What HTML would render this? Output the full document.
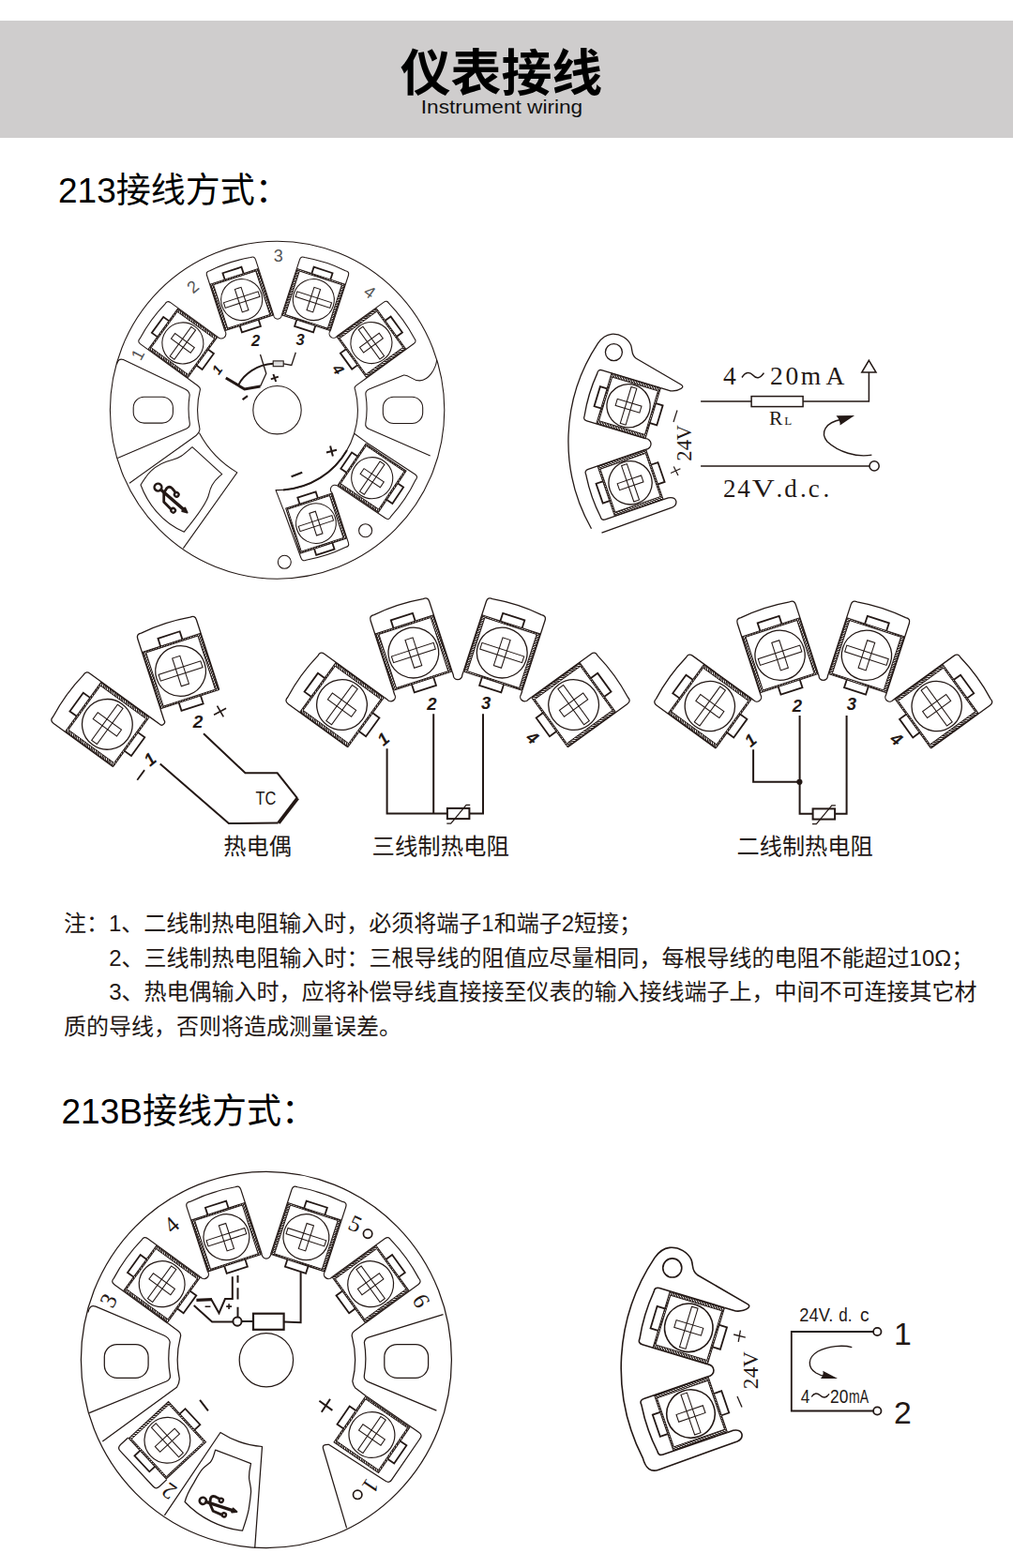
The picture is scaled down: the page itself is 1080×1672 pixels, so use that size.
<!DOCTYPE html><html><head><meta charset="utf-8"><title>Instrument wiring</title><style>html,body{margin:0;padding:0;background:#fff}body{position:relative;width:1080px;height:1672px;overflow:hidden;font-family:"Liberation Sans","Noto Sans CJK SC",sans-serif}svg{display:block;position:absolute;left:0;top:0}.cj{font-family:"Liberation Sans","Noto Sans CJK SC",sans-serif}</style></head><body><svg width="1080" height="1672" viewBox="0 0 1080 1672"><defs><pattern id="h0" width="2.1" height="2.1" patternUnits="userSpaceOnUse" patternTransform="rotate(45)"><rect width="2.1" height="2.1" fill="#fff"/><rect width="1.3" height="2.1" fill="#231815"/></pattern><pattern id="h1" width="2.15" height="2.15" patternUnits="userSpaceOnUse" patternTransform="rotate(45)"><rect width="2.15" height="2.15" fill="#fff"/><rect width="1.33" height="2.15" fill="#231815"/></pattern><pattern id="h2" width="2" height="2" patternUnits="userSpaceOnUse" patternTransform="rotate(45)"><rect width="2" height="2" fill="#fff"/><rect width="1.24" height="2" fill="#231815"/></pattern><pattern id="h3" width="1.72" height="1.72" patternUnits="userSpaceOnUse" patternTransform="rotate(45)"><rect width="1.72" height="1.72" fill="#fff"/><rect width="1.06" height="1.72" fill="#231815"/></pattern><pattern id="h4" width="1.72" height="1.72" patternUnits="userSpaceOnUse" patternTransform="rotate(45)"><rect width="1.72" height="1.72" fill="#fff"/><rect width="1.06" height="1.72" fill="#231815"/></pattern><pattern id="h5" width="1.74" height="1.74" patternUnits="userSpaceOnUse" patternTransform="rotate(45)"><rect width="1.74" height="1.74" fill="#fff"/><rect width="1.07" height="1.74" fill="#231815"/></pattern><pattern id="h6" width="1.89" height="1.89" patternUnits="userSpaceOnUse" patternTransform="rotate(45)"><rect width="1.89" height="1.89" fill="#fff"/><rect width="1.17" height="1.89" fill="#231815"/></pattern><pattern id="h7" width="1.79" height="1.79" patternUnits="userSpaceOnUse" patternTransform="rotate(45)"><rect width="1.79" height="1.79" fill="#fff"/><rect width="1.11" height="1.79" fill="#231815"/></pattern></defs><rect x="0" y="22" width="1080" height="125" fill="#cfcdcd"/><text class="cj" x="426.7" y="97.3" font-size="53.9" font-weight="bold" fill="#000">仪表接线</text><text class="cj" x="448.8" y="120.5" font-size="20.9" fill="#111" textLength="172.4" lengthAdjust="spacingAndGlyphs">Instrument wiring</text><text class="cj" x="62" y="216.3" font-size="37" fill="#000">213接线方式：</text><text class="cj" x="65.5" y="1197.5" font-size="37" fill="#000">213B接线方式：</text><text class="cj" x="68" y="993.2" font-size="24" fill="#231815">注：1、二线制热电阻输入时，必须将端子1和端子2短接；</text><text class="cj" x="116.2" y="1029.7" font-size="24" fill="#231815">2、三线制热电阻输入时：三根导线的阻值应尽量相同，每根导线的电阻不能超过10Ω；</text><text class="cj" x="116.2" y="1066.2" font-size="24" fill="#231815">3、热电偶输入时，应将补偿导线直接接至仪表的输入接线端子上，中间不可连接其它材</text><text class="cj" x="68" y="1102.7" font-size="24" fill="#231815">质的导线，否则将造成测量误差。</text><g fill="none" stroke="#231815" stroke-width="1.08" stroke-linejoin="round"><ellipse cx="295.6" cy="437.2" rx="178.2" ry="180.0"/><circle cx="295.5" cy="437.2" r="25.7"/><path d="M231.96,359.11 A5.03,5.03 0 0 0 239.75,352.73"/><path d="M291.68,335.86 A4.32,4.32 0 0 0 300.32,335.86"/><path d="M352.25,352.73 A4.48,4.48 0 0 0 358.84,358.81"/><path d="M359.73,518.03 A4.71,4.71 0 0 0 354.4,525.8"/><path d="M199.87,403.28 L210.79,411.22 Q213.7,413.33 213.41,415.46 A85.4,85.4 0 0 0 212.79,456.41 Q213.67,459.88 209.3,464.2 L138,515.2"/><path d="M212.4,461.6 A108,108 0 0 0 252.8,503.9 L195.4,584.6"/><path d="M390.93,402.98 L380.01,410.92 Q377.1,413.03 378.59,415.46 A85.4,85.4 0 0 1 294,522.58 L301.82,542.88"/><path d="M377.62,462.31 L390.82,471.93"/><path d="M301.96,522.39 A85.4,85.4 0 0 0 369.96,479.9" stroke-width="2"/><path d="M124.5,388.5 Q126,381.5 131.5,383.6 L196.5,414.6 Q201.6,416.8 202.2,421 A95,95 0 0 0 202.3,451.5 Q202.8,455.2 198.5,457.3 L125.3,488.6"/><rect x="142.2" y="423.3" width="42.2" height="27.8" rx="11.5" ry="11.5"/><path d="M465.7,384 C464.5,393 457.5,405.5 447.6,405.9 C439,406 437,399.5 430.5,400 L393.5,415 Q389.2,417 389.9,421 A94.5,94.5 0 0 1 389.8,451.5 Q389.2,455.5 393.5,457.6 L458.7,486.1"/><rect x="408.3" y="423.3" width="42.4" height="28.2" rx="11.5" ry="11.5"/><path d="M205,476.7 L236.7,505.6 C226,514 224,521 222.8,526.7 C221,536 208,553 196.3,567.2 C172,557 157,536 150,517 C155,509 158,505 161.1,502.2 C168,495.5 176,492 184,490.2 C192,488.5 196,484.5 205,476.7 Z"/><circle cx="303.3" cy="599.3" r="7"/><circle cx="389.6" cy="565.7" r="7"/></g><g transform="translate(168.5,519.6) rotate(41) scale(1)" fill="none" stroke="#231815" stroke-width="2.8" stroke-linecap="round" stroke-linejoin="round"><circle r="3.9" stroke-width="2.5"/><path d="M4.5,0 L37,0" stroke-width="3.4"/><path d="M36,-2.4 L41.3,0 L36,2.4 Z" fill="#231815" stroke-width="1.8"/><path d="M8.5,-0.5 L7.6,-5.5 Q8,-9.3 12.3,-9 L17,-8.2"/><circle cx="20" cy="-7.1" r="2.3" stroke-width="2.3"/><path d="M8.9,0.8 L14.9,7.7 L25.5,8.6"/><circle cx="28.4" cy="8" r="2.3" stroke-width="2.3"/></g><g fill="none" stroke="#231815" stroke-linejoin="miter"><path d="M240.8,403 L260.8,415 L277.5,412" stroke-width="3"/><path d="M277.5,412 L283.8,398.3 L277.5,378" stroke-width="1.3"/><path d="M254.2,410.5 C260,399 274,388.6 291.2,387.8" stroke-width="1.9"/><rect x="291.2" y="384.9" width="11" height="5.8" fill="#ddd" stroke-width="1.1"/><path d="M302.2,387.8 L310.8,389.5 L315.3,375.8" stroke-width="1.3"/><path d="M288.8,404.4 L296.8,401.6 M291.4,399 L294.2,407" stroke-width="2"/><path d="M258.6,426.2 L264,422.2" stroke-width="2.2"/><path d="M348,482.5 L359,479.7 M352.1,475.6 L354.9,486.6" stroke-width="2"/><path d="M310.6,508.3 L322.2,503.7" stroke-width="2.2"/></g><text font-family="Liberation Sans, sans-serif" font-weight="bold" font-style="italic" text-anchor="middle" fill="#231815" font-size="14.5" transform="translate(231.3,394.2) rotate(-54)" y="5.22">1</text><text font-family="Liberation Sans, sans-serif" font-weight="bold" font-style="italic" text-anchor="middle" fill="#231815" font-size="16.5" transform="translate(272.5,363.3) rotate(0)" y="5.94">2</text><text font-family="Liberation Sans, sans-serif" font-weight="bold" font-style="italic" text-anchor="middle" fill="#231815" font-size="16.5" transform="translate(320,362.5) rotate(0)" y="5.94">3</text><text font-family="Liberation Sans, sans-serif" font-weight="bold" font-style="italic" text-anchor="middle" fill="#231815" font-size="16" transform="translate(360.8,393.7) rotate(54)" y="5.76">4</text><text font-family="Liberation Sans, sans-serif" text-anchor="middle" fill="#555" font-size="18" transform="translate(146.5,378) rotate(-62)" y="6.5">1</text><text font-family="Liberation Sans, sans-serif" text-anchor="middle" fill="#555" font-size="18" transform="translate(205.5,305.5) rotate(-40)" y="6.5">2</text><text font-family="Liberation Sans, sans-serif" text-anchor="middle" fill="#555" font-size="18" transform="translate(296.7,272)" y="6.5">3</text><text font-family="Liberation Sans, sans-serif" text-anchor="middle" fill="#555" font-size="18" transform="translate(394.3,311.2) rotate(36)" y="6.5">4</text><g transform="translate(194.88,365.91) rotate(-54) scale(1)" fill="none" stroke="#231815" stroke-width="1.08"><path d="M-27.3,26 L-27.3,-36 Q-27.3,-40.5 -22.8,-39.9 A164.5,164.5 0 0 1 22.8,-39.9 Q27.3,-40.5 27.3,-36 L27.3,26"/><path fill="url(#h0)" stroke="none" fill-rule="evenodd" d="M-26.5,-26.0H26.5V26.0H-26.5Z M-23.7,-24.4H23.7V24.4H-23.7Z"/><rect x="-26.5" y="-26.0" width="53.0" height="52.0" stroke-width="1"/><rect x="-23.7" y="-24.4" width="47.4" height="48.8" stroke-width="0.9"/><path stroke-width="1.8" d="M-10.5,-26V-33.2H10.5V-26"/><path stroke-width="1.8" d="M-10.5,26V33.2H10.5V26"/><circle r="22"/><g transform="rotate(0)" stroke-width="1.05"><rect x="-19.3" y="-2.9" width="38.6" height="5.8"/><rect x="-3.5" y="-12.8" width="7" height="25.6"/></g></g><g transform="translate(257.68,319.57) rotate(-18) scale(1)" fill="none" stroke="#231815" stroke-width="1.08"><path d="M-27.3,26 L-27.3,-36 Q-27.3,-40.5 -22.8,-39.9 A164.5,164.5 0 0 1 22.8,-39.9 Q27.3,-40.5 27.3,-36 L27.3,26"/><path fill="url(#h0)" stroke="none" fill-rule="evenodd" d="M-26.5,-26.0H26.5V26.0H-26.5Z M-23.7,-24.4H23.7V24.4H-23.7Z"/><rect x="-26.5" y="-26.0" width="53.0" height="52.0" stroke-width="1"/><rect x="-23.7" y="-24.4" width="47.4" height="48.8" stroke-width="0.9"/><path stroke-width="1.8" d="M-10.5,-26V-33.2H10.5V-26"/><path stroke-width="1.8" d="M-10.5,26V33.2H10.5V26"/><circle r="22"/><g transform="rotate(0)" stroke-width="1.05"><rect x="-19.3" y="-2.9" width="38.6" height="5.8"/><rect x="-3.5" y="-12.8" width="7" height="25.6"/></g></g><g transform="translate(334.32,319.57) rotate(18) scale(1)" fill="none" stroke="#231815" stroke-width="1.08"><path d="M-27.3,26 L-27.3,-36 Q-27.3,-40.5 -22.8,-39.9 A164.5,164.5 0 0 1 22.8,-39.9 Q27.3,-40.5 27.3,-36 L27.3,26"/><path fill="url(#h0)" stroke="none" fill-rule="evenodd" d="M-26.5,-26.0H26.5V26.0H-26.5Z M-23.7,-24.4H23.7V24.4H-23.7Z"/><rect x="-26.5" y="-26.0" width="53.0" height="52.0" stroke-width="1"/><rect x="-23.7" y="-24.4" width="47.4" height="48.8" stroke-width="0.9"/><path stroke-width="1.8" d="M-10.5,-26V-33.2H10.5V-26"/><path stroke-width="1.8" d="M-10.5,26V33.2H10.5V26"/><circle r="22"/><g transform="rotate(0)" stroke-width="1.05"><rect x="-19.3" y="-2.9" width="38.6" height="5.8"/><rect x="-3.5" y="-12.8" width="7" height="25.6"/></g></g><g transform="translate(395.92,365.61) rotate(54) scale(1)" fill="none" stroke="#231815" stroke-width="1.08"><path d="M-27.3,26 L-27.3,-36 Q-27.3,-40.5 -22.8,-39.9 A164.5,164.5 0 0 1 22.8,-39.9 Q27.3,-40.5 27.3,-36 L27.3,26"/><path fill="url(#h0)" stroke="none" fill-rule="evenodd" d="M-26.5,-26.0H26.5V26.0H-26.5Z M-23.7,-24.4H23.7V24.4H-23.7Z"/><rect x="-26.5" y="-26.0" width="53.0" height="52.0" stroke-width="1"/><rect x="-23.7" y="-24.4" width="47.4" height="48.8" stroke-width="0.9"/><path stroke-width="1.8" d="M-10.5,-26V-33.2H10.5V-26"/><path stroke-width="1.8" d="M-10.5,26V33.2H10.5V26"/><circle r="22"/><g transform="rotate(0)" stroke-width="1.05"><rect x="-19.3" y="-2.9" width="38.6" height="5.8"/><rect x="-3.5" y="-12.8" width="7" height="25.6"/></g></g><g transform="translate(396.72,509.69) rotate(124) scale(1)" fill="none" stroke="#231815" stroke-width="1.08"><path d="M-28,26 L-28.9,-35.7 Q-28.9,-40.2 -24.4,-39.6 A164.5,164.5 0 0 1 23.1,-39.6 Q27.6,-40.2 27.6,-35.7 L27.6,26"/><path fill="url(#h0)" stroke="none" fill-rule="evenodd" d="M-26.5,-26.0H26.5V26.0H-26.5Z M-24.9,-24.4H23.7V24.4H-24.9Z"/><rect x="-26.5" y="-26.0" width="53.0" height="52.0" stroke-width="1"/><rect x="-24.9" y="-24.4" width="48.6" height="48.8" stroke-width="0.9"/><path stroke-width="1.8" d="M-10.5,-26V-33.2H10.5V-26"/><path stroke-width="1.8" d="M-10.5,26V33.2H10.5V26"/><circle r="22"/><g transform="rotate(0)" stroke-width="1.05"><rect x="-19.3" y="-2.9" width="38.6" height="5.8"/><rect x="-3.5" y="-12.8" width="7" height="25.6"/></g></g><g transform="translate(336.92,558.13) rotate(162) scale(0.97)" fill="none" stroke="#231815" stroke-width="1.11"><path d="M-27.3,26 L-27.3,-31 Q-27.3,-35.5 -22.8,-34.9 A164.5,164.5 0 0 1 22.9,-34.9 Q27.4,-35.5 27.4,-31 L29.4,26"/><path fill="url(#h1)" stroke="none" fill-rule="evenodd" d="M-26.5,-26.0H26.5V26.0H-26.5Z M-23.63,-24.36H24.86V24.36H-23.63Z"/><rect x="-26.5" y="-26.0" width="53.0" height="52.0" stroke-width="1.03"/><rect x="-23.63" y="-24.36" width="48.49" height="48.72" stroke-width="0.92"/><path stroke-width="1.85" d="M-10.5,-26V-33.2H10.5V-26"/><path stroke-width="1.85" d="M-10.5,26V33.2H10.5V26"/><circle r="22"/><g transform="rotate(0)" stroke-width="1.08"><rect x="-19.3" y="-2.9" width="38.6" height="5.8"/><rect x="-3.5" y="-12.8" width="7" height="25.6"/></g></g><g fill="none" stroke="#231815" stroke-width="1.3" stroke-linejoin="round"><path d="M707.08,532.65 L712.54,530.77 Q719.5,529.6 720.8,534.3 Q721.6,539 716.5,541.2 L641.5,568.2 M630.5,563.7 A188.8,188.8 0 0 1 637.6,365.9 C641,361 646,357 651.9,356.3 C661,355.5 669.5,361 672.6,367.9 C674,372 673.5,376 675.2,378.6 Q676.3,380.8 678.3,382.3 L726.3,410.2 Q729.3,412 726.3,414.3 Q722,417.4 714.93,416.8 L704.37,413.62"/><path d="M688.69,479.24 A5.78,5.78 0 0 0 688.04,467.7"/><circle cx="654.4" cy="375.6" r="9"/></g><g transform="translate(670.07,432.77) rotate(-73.2) scale(1.05)" fill="none" stroke="#231815" stroke-width="1.24"><path d="M-26.9,26 L-26.9,-36 Q-26.9,-40.5 -22.4,-39.9 A164.5,164.5 0 0 1 22.4,-39.9 Q26.9,-40.5 26.9,-36 L26.9,26"/><path fill="url(#h2)" stroke="none" fill-rule="evenodd" d="M-26.5,-26.0H26.5V26.0H-26.5Z M-23.17,-24.29H23.17V24.29H-23.17Z"/><rect x="-26.5" y="-26.0" width="53.0" height="52.0" stroke-width="0.95"/><rect x="-23.17" y="-24.29" width="46.33" height="48.57" stroke-width="0.86"/><path stroke-width="1.71" d="M-10.5,-26V-33.2H10.5V-26"/><path stroke-width="1.71" d="M-10.5,26V33.2H10.5V26"/><circle r="22"/><g transform="rotate(0)" stroke-width="1"><rect x="-19.3" y="-2.9" width="38.6" height="5.8"/><rect x="-3.5" y="-12.8" width="7" height="25.6"/></g></g><g transform="translate(672.07,514.83) rotate(-109) scale(1.05)" fill="none" stroke="#231815" stroke-width="1.24"><path d="M-26.9,26 L-26.9,-36 Q-26.9,-40.5 -22.4,-39.9 A164.5,164.5 0 0 1 22.4,-39.9 Q26.9,-40.5 26.9,-36 L26.9,26"/><path fill="url(#h2)" stroke="none" fill-rule="evenodd" d="M-26.5,-26.0H26.5V26.0H-26.5Z M-23.17,-24.29H23.17V24.29H-23.17Z"/><rect x="-26.5" y="-26.0" width="53.0" height="52.0" stroke-width="0.95"/><rect x="-23.17" y="-24.29" width="46.33" height="48.57" stroke-width="0.86"/><path stroke-width="1.71" d="M-10.5,-26V-33.2H10.5V-26"/><path stroke-width="1.71" d="M-10.5,26V33.2H10.5V26"/><circle r="22"/><g transform="rotate(0)" stroke-width="1"><rect x="-19.3" y="-2.9" width="38.6" height="5.8"/><rect x="-3.5" y="-12.8" width="7" height="25.6"/></g></g><g fill="none" stroke="#231815" stroke-width="1.5"><path d="M747.1,428.1 H801.1 M856.1,428.1 H926.4 V397.1"/><rect x="801.1" y="422.6" width="55" height="11"/><path d="M926.4,384.3 L934,397.1 H918.8 Z"/><path d="M747.1,496.9 H927"/><circle cx="932.1" cy="496.9" r="5.1"/><path d="M929.4,485.1 C913,488 894,482 882,471 C874,461 880,450.5 897,447.3" stroke-width="1.4"/></g><path d="M911.1,442.9 L891.5,443.2 Q896,448 895.6,453.6 Z" fill="#231815"/><text font-family="Liberation Serif, serif" fill="#231815" font-size="27.5" y="409.7" x="771">4</text><text font-family="Liberation Serif, serif" fill="#231815" font-size="27.5" y="409.7" x="821 837.4 853.8 880.6">20mA</text><path d="M791,402.5 C795,396 799.5,396.5 802.7,400 C806,403.8 810.5,404 814.4,397.7" fill="none" stroke="#231815" stroke-width="1.5"/><text font-family="Liberation Serif, serif" fill="#231815" font-size="21.5" y="452.5" x="820">R</text><text font-family="Liberation Serif, serif" fill="#231815" font-size="13" y="452.5" x="836.3">L</text><text font-family="Liberation Serif, serif" fill="#231815" font-size="27" y="529.9" x="771 786.3">24</text><text font-family="Liberation Serif, serif" fill="#231815" font-size="27" y="529.9" x="801.8" textLength="24" lengthAdjust="spacingAndGlyphs">V</text><text font-family="Liberation Serif, serif" fill="#231815" font-size="27" y="529.9" x="827.5 836.3 853 861.7 877.5">.d.c.</text><text font-family="Liberation Serif, serif" fill="#231815" font-size="22.5" transform="translate(737,491.8) rotate(-90)" x="0 11.5 22.2">24V</text><g fill="none" stroke="#231815" stroke-width="1.2"><path d="M715.1,504.5 L725.4,499.8 M718.3,497.4 L723,506.9"/><path d="M722,437.5 L718,450"/></g><g fill="none" stroke="#231815" stroke-width="1.3"><path d="M159.47,764.35 L169.6,771.72 A3.26,3.26 0 0 0 174.88,767.88 L171.01,755.97"/></g><g transform="translate(114.37,772.37) rotate(-54) scale(1.22)" fill="none" stroke="#231815" stroke-width="1.06"><path d="M-27,26 L-27,-38.3 Q-27,-42.8 -22.5,-42.2 A164.5,164.5 0 0 1 22.5,-42.2 Q27,-42.8 27,-38.3 L27,26"/><path fill="url(#h3)" stroke="none" fill-rule="evenodd" d="M-26.5,-26.0H26.5V26.0H-26.5Z M-23.8,-24.61H23.8V24.61H-23.8Z"/><rect x="-26.5" y="-26.0" width="53.0" height="52.0" stroke-width="0.82"/><rect x="-23.8" y="-24.61" width="47.6" height="49.22" stroke-width="0.74"/><path stroke-width="1.47" d="M-10,-26V-33.2H10V-26"/><path stroke-width="1.47" d="M-10,26V33.2H10V26"/><circle r="22"/><g transform="rotate(0)" stroke-width="0.86"><rect x="-19.3" y="-2.9" width="38.6" height="5.8"/><rect x="-3.5" y="-12.8" width="7" height="25.6"/></g></g><g transform="translate(192.57,715.55) rotate(-18) scale(1.22)" fill="none" stroke="#231815" stroke-width="1.06"><path d="M-27,26 L-27,-38.3 Q-27,-42.8 -22.5,-42.2 A164.5,164.5 0 0 1 22.5,-42.2 Q27,-42.8 27,-38.3 L27,26"/><path fill="url(#h3)" stroke="none" fill-rule="evenodd" d="M-26.5,-26.0H26.5V26.0H-26.5Z M-23.8,-24.61H23.8V24.61H-23.8Z"/><rect x="-26.5" y="-26.0" width="53.0" height="52.0" stroke-width="0.82"/><rect x="-23.8" y="-24.61" width="47.6" height="49.22" stroke-width="0.74"/><path stroke-width="1.47" d="M-10,-26V-33.2H10V-26"/><path stroke-width="1.47" d="M-10,26V33.2H10V26"/><circle r="22"/><g transform="rotate(0)" stroke-width="0.86"><rect x="-19.3" y="-2.9" width="38.6" height="5.8"/><rect x="-3.5" y="-12.8" width="7" height="25.6"/></g></g><g fill="none" stroke="#231815" stroke-width="2" stroke-linejoin="miter"><path d="M217,782.2 L261.5,824.3 H295.7 L317,851.1 M296.7,877.6 L243.9,878 L170.7,814.4"/><path d="M317.4,851 L297,877.7" stroke-width="3.8"/><path d="M228.1,762.2 L241.1,755.2 M231.5,752.6 L238.3,764.4" stroke-width="1.6"/><path d="M146.3,831.7 L154.1,821.1" stroke-width="1.8"/></g><text font-family="Liberation Sans, sans-serif" font-weight="bold" font-style="italic" text-anchor="middle" fill="#231815" font-size="19" transform="translate(211.1,769.6) rotate(0)" y="6.84">2</text><text font-family="Liberation Sans, sans-serif" font-weight="bold" font-style="italic" text-anchor="middle" fill="#231815" font-size="19" transform="translate(159.6,809.4) rotate(-40)" y="6.84">1</text><text font-family="Liberation Sans, sans-serif" font-size="20.5" fill="#231815" transform="translate(272.4,858.4) scale(0.8,1)">TC</text><text class="cj" x="238.3" y="911.3" font-size="24.2" fill="#231815">热电偶</text><g fill="none" stroke="#231815" stroke-width="1.3"><path d="M409.63,743.52 L412.85,745.86 A4.74,4.74 0 0 0 420.52,740.29 L419.29,736.51"/><path d="M482.08,716.1 L483.31,719.88 A4.74,4.74 0 0 0 492.79,719.88 L494.02,716.1"/><path d="M556.81,736.51 L555.58,740.29 A4.74,4.74 0 0 0 563.25,745.86 L566.47,743.52"/></g><g transform="translate(364.51,751.55) rotate(-54) scale(1.22)" fill="none" stroke="#231815" stroke-width="1.06"><path d="M-27,26 L-27,-38.3 Q-27,-42.8 -22.5,-42.2 A164.5,164.5 0 0 1 22.5,-42.2 Q27,-42.8 27,-38.3 L27,26"/><path fill="url(#h4)" stroke="none" fill-rule="evenodd" d="M-26.5,-26.0H26.5V26.0H-26.5Z M-23.8,-24.61H23.8V24.61H-23.8Z"/><rect x="-26.5" y="-26.0" width="53.0" height="52.0" stroke-width="0.82"/><rect x="-23.8" y="-24.61" width="47.6" height="49.22" stroke-width="0.74"/><path stroke-width="1.47" d="M-10,-26V-33.2H10V-26"/><path stroke-width="1.47" d="M-10,26V33.2H10V26"/><circle r="22"/><g transform="rotate(0)" stroke-width="0.86"><rect x="-19.3" y="-2.9" width="38.6" height="5.8"/><rect x="-3.5" y="-12.8" width="7" height="25.6"/></g></g><g transform="translate(440.86,696.07) rotate(-18) scale(1.22)" fill="none" stroke="#231815" stroke-width="1.06"><path d="M-27,26 L-27,-38.3 Q-27,-42.8 -22.5,-42.2 A164.5,164.5 0 0 1 22.5,-42.2 Q27,-42.8 27,-38.3 L27,26"/><path fill="url(#h4)" stroke="none" fill-rule="evenodd" d="M-26.5,-26.0H26.5V26.0H-26.5Z M-23.8,-24.61H23.8V24.61H-23.8Z"/><rect x="-26.5" y="-26.0" width="53.0" height="52.0" stroke-width="0.82"/><rect x="-23.8" y="-24.61" width="47.6" height="49.22" stroke-width="0.74"/><path stroke-width="1.47" d="M-10,-26V-33.2H10V-26"/><path stroke-width="1.47" d="M-10,26V33.2H10V26"/><circle r="22"/><g transform="rotate(0)" stroke-width="0.86"><rect x="-19.3" y="-2.9" width="38.6" height="5.8"/><rect x="-3.5" y="-12.8" width="7" height="25.6"/></g></g><g transform="translate(535.24,696.07) rotate(18) scale(1.22)" fill="none" stroke="#231815" stroke-width="1.06"><path d="M-27,26 L-27,-38.3 Q-27,-42.8 -22.5,-42.2 A164.5,164.5 0 0 1 22.5,-42.2 Q27,-42.8 27,-38.3 L27,26"/><path fill="url(#h4)" stroke="none" fill-rule="evenodd" d="M-26.5,-26.0H26.5V26.0H-26.5Z M-23.8,-24.61H23.8V24.61H-23.8Z"/><rect x="-26.5" y="-26.0" width="53.0" height="52.0" stroke-width="0.82"/><rect x="-23.8" y="-24.61" width="47.6" height="49.22" stroke-width="0.74"/><path stroke-width="1.47" d="M-10,-26V-33.2H10V-26"/><path stroke-width="1.47" d="M-10,26V33.2H10V26"/><circle r="22"/><g transform="rotate(0)" stroke-width="0.86"><rect x="-19.3" y="-2.9" width="38.6" height="5.8"/><rect x="-3.5" y="-12.8" width="7" height="25.6"/></g></g><g transform="translate(611.59,751.55) rotate(54) scale(1.22)" fill="none" stroke="#231815" stroke-width="1.06"><path d="M-27,26 L-27,-38.3 Q-27,-42.8 -22.5,-42.2 A164.5,164.5 0 0 1 22.5,-42.2 Q27,-42.8 27,-38.3 L27,26"/><path fill="url(#h4)" stroke="none" fill-rule="evenodd" d="M-26.5,-26.0H26.5V26.0H-26.5Z M-23.8,-24.61H23.8V24.61H-23.8Z"/><rect x="-26.5" y="-26.0" width="53.0" height="52.0" stroke-width="0.82"/><rect x="-23.8" y="-24.61" width="47.6" height="49.22" stroke-width="0.74"/><path stroke-width="1.47" d="M-10,-26V-33.2H10V-26"/><path stroke-width="1.47" d="M-10,26V33.2H10V26"/><circle r="22"/><g transform="rotate(0)" stroke-width="0.86"><rect x="-19.3" y="-2.9" width="38.6" height="5.8"/><rect x="-3.5" y="-12.8" width="7" height="25.6"/></g></g><g fill="none" stroke="#231815" stroke-width="2" stroke-linejoin="miter"><path d="M412.6,798.3 V867.4 H476.7 M500.6,867.4 H515 V761.3 M462.2,761.3 V867.4"/><rect x="476.9" y="861.9" width="23.5" height="11.2" fill="#fff"/><path d="M476.3,878.1 H480.7 L497.1,858.3 H501.2" stroke-width="1.2"/></g><text font-family="Liberation Sans, sans-serif" font-weight="bold" font-style="italic" text-anchor="middle" fill="#231815" font-size="18.5" transform="translate(460.4,750.2) rotate(0)" y="6.66">2</text><text font-family="Liberation Sans, sans-serif" font-weight="bold" font-style="italic" text-anchor="middle" fill="#231815" font-size="18.5" transform="translate(518.1,749.3) rotate(0)" y="6.66">3</text><text font-family="Liberation Sans, sans-serif" font-weight="bold" font-style="italic" text-anchor="middle" fill="#231815" font-size="18.5" transform="translate(408.5,787.8) rotate(-40)" y="6.66">1</text><text font-family="Liberation Sans, sans-serif" font-weight="bold" font-style="italic" text-anchor="middle" fill="#231815" font-size="18.5" transform="translate(567.8,786.3) rotate(38)" y="6.66">4</text><text class="cj" x="396.5" y="910.5" font-size="24.4" fill="#231815">三线制热电阻</text><g fill="none" stroke="#231815" stroke-width="1.3"><path d="M801.5,745.12 L803.21,746.36 A4.74,4.74 0 0 0 810.87,740.79 L810.22,738.78"/><path d="M872.36,718.59 L873.01,720.6 A4.74,4.74 0 0 0 882.49,720.6 L883.14,718.59"/><path d="M945.28,738.78 L944.63,740.79 A4.74,4.74 0 0 0 952.29,746.36 L954,745.12"/></g><g transform="translate(756.84,753.06) rotate(-54) scale(1.21)" fill="none" stroke="#231815" stroke-width="1.07"><path d="M-27,26 L-27,-38.3 Q-27,-42.8 -22.5,-42.2 A164.5,164.5 0 0 1 22.5,-42.2 Q27,-42.8 27,-38.3 L27,26"/><path fill="url(#h5)" stroke="none" fill-rule="evenodd" d="M-26.5,-26.0H26.5V26.0H-26.5Z M-23.77,-24.6H23.77V24.6H-23.77Z"/><rect x="-26.5" y="-26.0" width="53.0" height="52.0" stroke-width="0.83"/><rect x="-23.77" y="-24.6" width="47.55" height="49.19" stroke-width="0.74"/><path stroke-width="1.49" d="M-10,-26V-33.2H10V-26"/><path stroke-width="1.49" d="M-10,26V33.2H10V26"/><circle r="22"/><g transform="rotate(0)" stroke-width="0.87"><rect x="-19.3" y="-2.9" width="38.6" height="5.8"/><rect x="-3.5" y="-12.8" width="7" height="25.6"/></g></g><g transform="translate(831.57,698.76) rotate(-18) scale(1.21)" fill="none" stroke="#231815" stroke-width="1.07"><path d="M-27,26 L-27,-38.3 Q-27,-42.8 -22.5,-42.2 A164.5,164.5 0 0 1 22.5,-42.2 Q27,-42.8 27,-38.3 L27,26"/><path fill="url(#h5)" stroke="none" fill-rule="evenodd" d="M-26.5,-26.0H26.5V26.0H-26.5Z M-23.77,-24.6H23.77V24.6H-23.77Z"/><rect x="-26.5" y="-26.0" width="53.0" height="52.0" stroke-width="0.83"/><rect x="-23.77" y="-24.6" width="47.55" height="49.19" stroke-width="0.74"/><path stroke-width="1.49" d="M-10,-26V-33.2H10V-26"/><path stroke-width="1.49" d="M-10,26V33.2H10V26"/><circle r="22"/><g transform="rotate(0)" stroke-width="0.87"><rect x="-19.3" y="-2.9" width="38.6" height="5.8"/><rect x="-3.5" y="-12.8" width="7" height="25.6"/></g></g><g transform="translate(923.93,698.76) rotate(18) scale(1.21)" fill="none" stroke="#231815" stroke-width="1.07"><path d="M-27,26 L-27,-38.3 Q-27,-42.8 -22.5,-42.2 A164.5,164.5 0 0 1 22.5,-42.2 Q27,-42.8 27,-38.3 L27,26"/><path fill="url(#h5)" stroke="none" fill-rule="evenodd" d="M-26.5,-26.0H26.5V26.0H-26.5Z M-23.77,-24.6H23.77V24.6H-23.77Z"/><rect x="-26.5" y="-26.0" width="53.0" height="52.0" stroke-width="0.83"/><rect x="-23.77" y="-24.6" width="47.55" height="49.19" stroke-width="0.74"/><path stroke-width="1.49" d="M-10,-26V-33.2H10V-26"/><path stroke-width="1.49" d="M-10,26V33.2H10V26"/><circle r="22"/><g transform="rotate(0)" stroke-width="0.87"><rect x="-19.3" y="-2.9" width="38.6" height="5.8"/><rect x="-3.5" y="-12.8" width="7" height="25.6"/></g></g><g transform="translate(998.66,753.06) rotate(54) scale(1.21)" fill="none" stroke="#231815" stroke-width="1.07"><path d="M-27,26 L-27,-38.3 Q-27,-42.8 -22.5,-42.2 A164.5,164.5 0 0 1 22.5,-42.2 Q27,-42.8 27,-38.3 L27,26"/><path fill="url(#h5)" stroke="none" fill-rule="evenodd" d="M-26.5,-26.0H26.5V26.0H-26.5Z M-23.77,-24.6H23.77V24.6H-23.77Z"/><rect x="-26.5" y="-26.0" width="53.0" height="52.0" stroke-width="0.83"/><rect x="-23.77" y="-24.6" width="47.55" height="49.19" stroke-width="0.74"/><path stroke-width="1.49" d="M-10,-26V-33.2H10V-26"/><path stroke-width="1.49" d="M-10,26V33.2H10V26"/><circle r="22"/><g transform="rotate(0)" stroke-width="0.87"><rect x="-19.3" y="-2.9" width="38.6" height="5.8"/><rect x="-3.5" y="-12.8" width="7" height="25.6"/></g></g><g fill="none" stroke="#231815" stroke-width="2" stroke-linejoin="miter"><path d="M803.1,799.3 V833.7 H852.6 M852.6,763.1 V867.8 H866.7 M889.6,867.8 H902.6 V763.1"/><rect x="866.6" y="862.4" width="23.5" height="11.2" fill="#fff"/><path d="M866,878.6 H870.4 L886.8,858.8 H890.9" stroke-width="1.2"/><circle cx="852.4" cy="833.8" r="3.1" fill="#231815" stroke="none"/></g><text font-family="Liberation Sans, sans-serif" font-weight="bold" font-style="italic" text-anchor="middle" fill="#231815" font-size="18.5" transform="translate(850,752) rotate(0)" y="6.66">2</text><text font-family="Liberation Sans, sans-serif" font-weight="bold" font-style="italic" text-anchor="middle" fill="#231815" font-size="18.5" transform="translate(907.8,750.2) rotate(0)" y="6.66">3</text><text font-family="Liberation Sans, sans-serif" font-weight="bold" font-style="italic" text-anchor="middle" fill="#231815" font-size="18.5" transform="translate(800,789) rotate(-40)" y="6.66">1</text><text font-family="Liberation Sans, sans-serif" font-weight="bold" font-style="italic" text-anchor="middle" fill="#231815" font-size="18.5" transform="translate(955.9,787.8) rotate(38)" y="6.66">4</text><text class="cj" x="785.5" y="910.5" font-size="24.2" fill="#231815">二线制热电阻</text><g fill="none" stroke="#231815" stroke-width="1.25" stroke-linejoin="round"><ellipse cx="283.9" cy="1449.95" rx="197.5" ry="200.65"/><circle cx="283.9" cy="1450.2" r="28.7"/><path d="M213.77,1361.62 A4.79,4.79 0 0 0 221.52,1355.99"/><path d="M279.11,1337.28 A4.79,4.79 0 0 0 288.69,1337.28"/><path d="M346.28,1355.99 A4.79,4.79 0 0 0 354.03,1361.62"/><path d="M178.18,1410.61 L190.29,1419.41 Q193.52,1421.76 192.31,1425.89 A94.71,94.71 0 0 0 191.09,1468.88 Q192,1472.91 188.5,1479.2 L109.3,1537"/><path d="M389.62,1410.61 L377.51,1419.41 Q374.28,1421.76 375.49,1425.89 A94.71,94.71 0 0 1 375.8,1472.91 Q376.6,1477.7 378.8,1480 L390.02,1488.44 L446.69,1527.39 Q450.8,1530.21 447.64,1534.23 L417.8,1577.64 Q415.25,1581.94 411.07,1579.21 L350.35,1540.3 Q343,1540 344.6,1545 L369.6,1629.4"/><path d="M136.6,1533.05 L128.46,1540.58 Q124.8,1543.97 128.36,1547.33 L163.02,1584.76 Q166.09,1588.56 169.75,1585.17 L177.89,1577.64"/><path d="M175.4,1615.9 L235,1527.5 A94.71,94.71 0 0 0 279.5,1542.5 L271.7,1650.8"/><path d="M229.6,1546.1 L267.5,1560.6 C266.3,1566 265,1571 265.7,1577.4 C266.5,1583 268,1586.5 267.5,1591.8 C266.8,1600 266,1604 265.1,1609.9 C263.5,1618 261,1625 258.5,1632.2 C236,1630 213,1618.5 197.1,1601.5 C199,1594 202.5,1588 206.1,1582.2 C209,1577 212,1571 215.7,1566.6 C219,1562.8 222,1561.5 224.2,1559.3 C227.3,1556 228,1551 229.6,1546.1 Z"/><path d="M93.8,1399.5 Q95.5,1390.5 102,1393.2 L174.8,1424 Q180.3,1426.5 181.2,1431 A105.3,105.3 0 0 0 181.4,1466.6 Q182,1470.8 177.3,1473 L95.2,1506.7"/><rect x="111.3" y="1433.5" width="46.8" height="35.8" rx="13.5" ry="13.5"/><path d="M472.5,1401.7 L393.5,1425.8 Q388.8,1427.3 388.4,1431.5 A105.3,105.3 0 0 1 388.3,1467.2 Q387.8,1471.2 392.3,1473.4 L465.4,1504.2"/><rect x="409.8" y="1433.5" width="46.8" height="35.8" rx="13.5" ry="13.5"/><circle cx="392.1" cy="1315.6" r="4.7" stroke-width="1.7"/><circle cx="381.2" cy="1593.8" r="4.7" stroke-width="1.7"/></g><g transform="translate(216.3,1600.3) rotate(18) scale(0.92)" fill="none" stroke="#231815" stroke-width="3.08" stroke-linecap="round" stroke-linejoin="round"><circle r="3.9" stroke-width="2.75"/><path d="M4.5,0 L37,0" stroke-width="3.74"/><path d="M36,-2.4 L41.3,0 L36,2.4 Z" fill="#231815" stroke-width="1.98"/><path d="M8.5,-0.5 L7.6,-5.5 Q8,-9.3 12.3,-9 L17,-8.2"/><circle cx="20" cy="-7.1" r="2.3" stroke-width="2.53"/><path d="M8.9,0.8 L14.9,7.7 L25.5,8.6"/><circle cx="28.4" cy="8" r="2.3" stroke-width="2.53"/></g><g fill="none" stroke="#231815" stroke-width="2" stroke-linejoin="miter"><path d="M247.8,1361.3 V1385 H240 L233.5,1400.2 L225.2,1385.4"/><path d="M226,1385.7 L209.4,1386.3" stroke-width="3.2"/><path d="M253.5,1360 V1367.8 M253.5,1373.3 V1385.4 M253.5,1393.7 V1404.2"/><circle cx="253" cy="1409.1" r="4.6"/><path d="M206.7,1391.9 L226.1,1409.4 H248.4 M257.6,1409.1 H270"/><rect x="270" y="1400.7" width="32.6" height="17.1" stroke-width="2.2"/><path d="M302.6,1409.6 L320.6,1410.2 V1356.7"/><path d="M218.6,1393.3 H224.4 M241.2,1393.1 H247 M244.1,1390.2 V1396" stroke-width="1.6"/><path d="M213.1,1492.8 L221.9,1504.4 M340.4,1493.7 L354.4,1503.9 M352,1491.9 L342.8,1505.7"/><path d="M206.3,1485 L217.4,1498.5" stroke="none"/></g><text font-family="Liberation Serif, serif" font-size="24.5" text-anchor="middle" fill="#231815" transform="translate(182.7,1306.1) rotate(-42)" y="8.2">4</text><text font-family="Liberation Serif, serif" font-size="24.5" text-anchor="middle" fill="#231815" transform="translate(115.6,1386.7) rotate(-62)" y="8.2">3</text><text font-family="Liberation Serif, serif" font-size="24.5" text-anchor="middle" fill="#231815" transform="translate(378.8,1304.9) rotate(25)" y="8.2">5</text><text font-family="Liberation Serif, serif" font-size="24.5" text-anchor="middle" fill="#231815" transform="translate(449.1,1387.1) rotate(62)" y="8.2">6</text><text font-family="Liberation Serif, serif" font-size="24.5" text-anchor="middle" fill="#231815" transform="translate(395.1,1584.6) rotate(124)" y="8.2">1</text><text font-family="Liberation Serif, serif" font-size="24.5" text-anchor="middle" fill="#231815" transform="translate(180.2,1590) rotate(215)" y="8.2">2</text><g transform="translate(172.65,1369.17) rotate(-54) scale(1.11)" fill="none" stroke="#231815" stroke-width="1.08"><path d="M-27.3,26 L-27.3,-36.7 Q-27.3,-41.2 -22.8,-40.6 A164.5,164.5 0 0 1 22.8,-40.6 Q27.3,-41.2 27.3,-36.7 L27.3,26"/><path fill="url(#h6)" stroke="none" fill-rule="evenodd" d="M-26.5,-26.0H26.5V26.0H-26.5Z M-23.98,-24.56H23.98V24.56H-23.98Z"/><rect x="-26.5" y="-26.0" width="53.0" height="52.0" stroke-width="0.9"/><rect x="-23.98" y="-24.56" width="47.95" height="49.11" stroke-width="0.81"/><path stroke-width="1.62" d="M-10.5,-26V-33.2H10.5V-26"/><path stroke-width="1.62" d="M-10.5,26V33.2H10.5V26"/><circle r="22"/><g transform="rotate(0)" stroke-width="0.95"><rect x="-19.3" y="-2.9" width="38.6" height="5.8"/><rect x="-3.5" y="-12.8" width="7" height="25.6"/></g></g><g transform="translate(241.41,1319.21) rotate(-18) scale(1.11)" fill="none" stroke="#231815" stroke-width="1.08"><path d="M-27.3,26 L-27.3,-39.3 Q-27.3,-43.8 -22.8,-43.2 A164.5,164.5 0 0 1 22.8,-43.2 Q27.3,-43.8 27.3,-39.3 L27.3,26"/><path fill="url(#h6)" stroke="none" fill-rule="evenodd" d="M-26.5,-26.0H26.5V26.0H-26.5Z M-23.98,-24.56H23.98V24.56H-23.98Z"/><rect x="-26.5" y="-26.0" width="53.0" height="52.0" stroke-width="0.9"/><rect x="-23.98" y="-24.56" width="47.95" height="49.11" stroke-width="0.81"/><path stroke-width="1.62" d="M-10.5,-26V-33.2H10.5V-26"/><path stroke-width="1.62" d="M-10.5,26V33.2H10.5V26"/><circle r="22"/><g transform="rotate(0)" stroke-width="0.95"><rect x="-19.3" y="-2.9" width="38.6" height="5.8"/><rect x="-3.5" y="-12.8" width="7" height="25.6"/></g></g><g transform="translate(326.39,1319.21) rotate(18) scale(1.11)" fill="none" stroke="#231815" stroke-width="1.08"><path d="M-27.3,26 L-27.3,-39.3 Q-27.3,-43.8 -22.8,-43.2 A164.5,164.5 0 0 1 22.8,-43.2 Q27.3,-43.8 27.3,-39.3 L27.3,26"/><path fill="url(#h6)" stroke="none" fill-rule="evenodd" d="M-26.5,-26.0H26.5V26.0H-26.5Z M-23.98,-24.56H23.98V24.56H-23.98Z"/><rect x="-26.5" y="-26.0" width="53.0" height="52.0" stroke-width="0.9"/><rect x="-23.98" y="-24.56" width="47.95" height="49.11" stroke-width="0.81"/><path stroke-width="1.62" d="M-10.5,-26V-33.2H10.5V-26"/><path stroke-width="1.62" d="M-10.5,26V33.2H10.5V26"/><circle r="22"/><g transform="rotate(0)" stroke-width="0.95"><rect x="-19.3" y="-2.9" width="38.6" height="5.8"/><rect x="-3.5" y="-12.8" width="7" height="25.6"/></g></g><g transform="translate(395.15,1369.17) rotate(54) scale(1.11)" fill="none" stroke="#231815" stroke-width="1.08"><path d="M-27.3,26 L-27.3,-36.7 Q-27.3,-41.2 -22.8,-40.6 A164.5,164.5 0 0 1 22.8,-40.6 Q27.3,-41.2 27.3,-36.7 L27.3,26"/><path fill="url(#h6)" stroke="none" fill-rule="evenodd" d="M-26.5,-26.0H26.5V26.0H-26.5Z M-23.98,-24.56H23.98V24.56H-23.98Z"/><rect x="-26.5" y="-26.0" width="53.0" height="52.0" stroke-width="0.9"/><rect x="-23.98" y="-24.56" width="47.95" height="49.11" stroke-width="0.81"/><path stroke-width="1.62" d="M-10.5,-26V-33.2H10.5V-26"/><path stroke-width="1.62" d="M-10.5,26V33.2H10.5V26"/><circle r="22"/><g transform="rotate(0)" stroke-width="0.95"><rect x="-19.3" y="-2.9" width="38.6" height="5.8"/><rect x="-3.5" y="-12.8" width="7" height="25.6"/></g></g><g transform="translate(396.45,1530) rotate(124.5) scale(1.11)" fill="none" stroke="#231815" stroke-width="1.08"><path fill="url(#h6)" stroke="none" fill-rule="evenodd" d="M-26.5,-26.0H26.5V26.0H-26.5Z M-24.88,-24.38H24.16V24.38H-24.88Z"/><rect x="-26.5" y="-26.0" width="53.0" height="52.0" stroke-width="0.9"/><rect x="-24.88" y="-24.38" width="49.03" height="48.75" stroke-width="0.81"/><path stroke-width="1.62" d="M-10.5,-26V-33.2H10.5V-26"/><path stroke-width="1.62" d="M-10.5,26V33.2H10.5V26"/><circle r="22"/><g transform="rotate(0)" stroke-width="0.95"><rect x="-19.3" y="-2.9" width="38.6" height="5.8"/><rect x="-3.5" y="-12.8" width="7" height="25.6"/></g></g><g transform="translate(178.4,1535.75) rotate(227.2) scale(1.11)" fill="none" stroke="#231815" stroke-width="1.08"><path fill="url(#h6)" stroke="none" fill-rule="evenodd" d="M-26.5,-26.0H26.5V26.0H-26.5Z M-24.88,-24.38H24.16V24.38H-24.88Z"/><rect x="-26.5" y="-26.0" width="53.0" height="52.0" stroke-width="0.9"/><rect x="-24.88" y="-24.38" width="49.03" height="48.75" stroke-width="0.81"/><path stroke-width="1.62" d="M-10.5,-26V-33.2H10.5V-26"/><path stroke-width="1.62" d="M-10.5,26V33.2H10.5V26"/><circle r="22"/><g transform="rotate(0)" stroke-width="0.95"><rect x="-19.3" y="-2.9" width="38.6" height="5.8"/><rect x="-3.5" y="-12.8" width="7" height="25.6"/></g></g><g fill="none" stroke="#231815" stroke-width="1.6" stroke-linejoin="round"><path d="M775.62,1527.42 L781.72,1525.32 Q789.5,1524.01 790.95,1529.26 Q791.84,1534.51 786.14,1536.97 L702.36,1567.13 Q689.85,1571.6 685.38,1554.85 A210.92,210.92 0 0 1 698,1341.14 C701.8,1335.66 707.39,1331.19 713.98,1330.41 C724.14,1329.52 733.64,1335.66 737.1,1343.37 C738.67,1347.95 738.11,1352.42 740.01,1355.32 Q741.24,1357.78 743.47,1359.46 L797.09,1390.63 Q800.44,1392.64 797.09,1395.21 Q792.29,1398.67 784.39,1398 L772.59,1394.44"/><path d="M755.08,1467.75 A6.46,6.46 0 0 0 754.35,1454.86"/><circle cx="716.77" cy="1351.97" r="10.05"/></g><g transform="translate(734.28,1415.84) rotate(-73.2) scale(1.17)" fill="none" stroke="#231815" stroke-width="1.36"><path d="M-26.9,26 L-26.9,-36 Q-26.9,-40.5 -22.4,-39.9 A164.5,164.5 0 0 1 22.4,-39.9 Q26.9,-40.5 26.9,-36 L26.9,26"/><path fill="url(#h7)" stroke="none" fill-rule="evenodd" d="M-26.5,-26.0H26.5V26.0H-26.5Z M-23.52,-24.47H23.52V24.47H-23.52Z"/><rect x="-26.5" y="-26.0" width="53.0" height="52.0" stroke-width="0.85"/><rect x="-23.52" y="-24.47" width="47.03" height="48.93" stroke-width="0.77"/><path stroke-width="1.53" d="M-10.5,-26V-33.2H10.5V-26"/><path stroke-width="1.53" d="M-10.5,26V33.2H10.5V26"/><circle r="22"/><g transform="rotate(0)" stroke-width="0.9"><rect x="-19.3" y="-2.9" width="38.6" height="5.8"/><rect x="-3.5" y="-12.8" width="7" height="25.6"/></g></g><g transform="translate(736.51,1507.52) rotate(-109) scale(1.17)" fill="none" stroke="#231815" stroke-width="1.36"><path d="M-26.9,26 L-26.9,-36 Q-26.9,-40.5 -22.4,-39.9 A164.5,164.5 0 0 1 22.4,-39.9 Q26.9,-40.5 26.9,-36 L26.9,26"/><path fill="url(#h7)" stroke="none" fill-rule="evenodd" d="M-26.5,-26.0H26.5V26.0H-26.5Z M-23.52,-24.47H23.52V24.47H-23.52Z"/><rect x="-26.5" y="-26.0" width="53.0" height="52.0" stroke-width="0.85"/><rect x="-23.52" y="-24.47" width="47.03" height="48.93" stroke-width="0.77"/><path stroke-width="1.53" d="M-10.5,-26V-33.2H10.5V-26"/><path stroke-width="1.53" d="M-10.5,26V33.2H10.5V26"/><circle r="22"/><g transform="rotate(0)" stroke-width="0.9"><rect x="-19.3" y="-2.9" width="38.6" height="5.8"/><rect x="-3.5" y="-12.8" width="7" height="25.6"/></g></g><g fill="none" stroke="#231815" stroke-width="1.8"><path d="M931,1420 H843.8 V1504.5 H931"/><circle cx="935.3" cy="1420" r="4.2"/><circle cx="935.3" cy="1504.5" r="4.2"/><path d="M908.3,1436.7 C899,1434 883,1435 872,1441 C861,1447.5 860.5,1458 870,1464 C873,1465.8 876,1466.8 879,1467.3" stroke-width="1.4"/></g><path d="M893,1470 L877.3,1461.8 Q878.5,1466 875,1469.9 Z" fill="#231815"/><text font-family="Liberation Sans, sans-serif" fill="#231815" font-size="19.8" y="1409.2" x="852.3" textLength="36" lengthAdjust="spacingAndGlyphs">24V.</text><text font-family="Liberation Sans, sans-serif" fill="#231815" font-size="19.8" y="1409.2" x="894.3" textLength="14.2" lengthAdjust="spacingAndGlyphs">d.</text><text font-family="Liberation Sans, sans-serif" fill="#231815" font-size="19.8" y="1409.2" x="917" textLength="9.6" lengthAdjust="spacingAndGlyphs">c</text><text font-family="Liberation Sans, sans-serif" fill="#231815" font-size="19.8" y="1495.8" x="853.8" textLength="9.6" lengthAdjust="spacingAndGlyphs">4</text><path d="M865.2,1489.5 C868,1485 871.5,1485.3 874.5,1488 C877.5,1490.8 881,1491 884,1486.3" fill="none" stroke="#231815" stroke-width="1.4"/><text font-family="Liberation Sans, sans-serif" fill="#231815" font-size="19.8" y="1495.8" x="885" textLength="19.3" lengthAdjust="spacingAndGlyphs">20</text><text font-family="Liberation Sans, sans-serif" fill="#231815" font-size="19.8" y="1495.8" x="905" textLength="21" lengthAdjust="spacingAndGlyphs">mA</text><text font-family="Liberation Sans, sans-serif" fill="#231815" font-size="33.8" y="1433.6" x="953">1</text><text font-family="Liberation Sans, sans-serif" fill="#231815" font-size="33.8" y="1518.3" x="953">2</text><text font-family="Liberation Serif, serif" fill="#231815" font-size="23.4" transform="translate(807.8,1481.3) rotate(-90)" x="0 12 23.4">24V</text><g fill="none" stroke="#231815" stroke-width="1.3"><path d="M782.2,1423 L794.8,1426.2 M789.4,1418.7 L787.2,1430.9"/><path d="M786,1489 L791,1500.5"/></g></svg></body></html>
